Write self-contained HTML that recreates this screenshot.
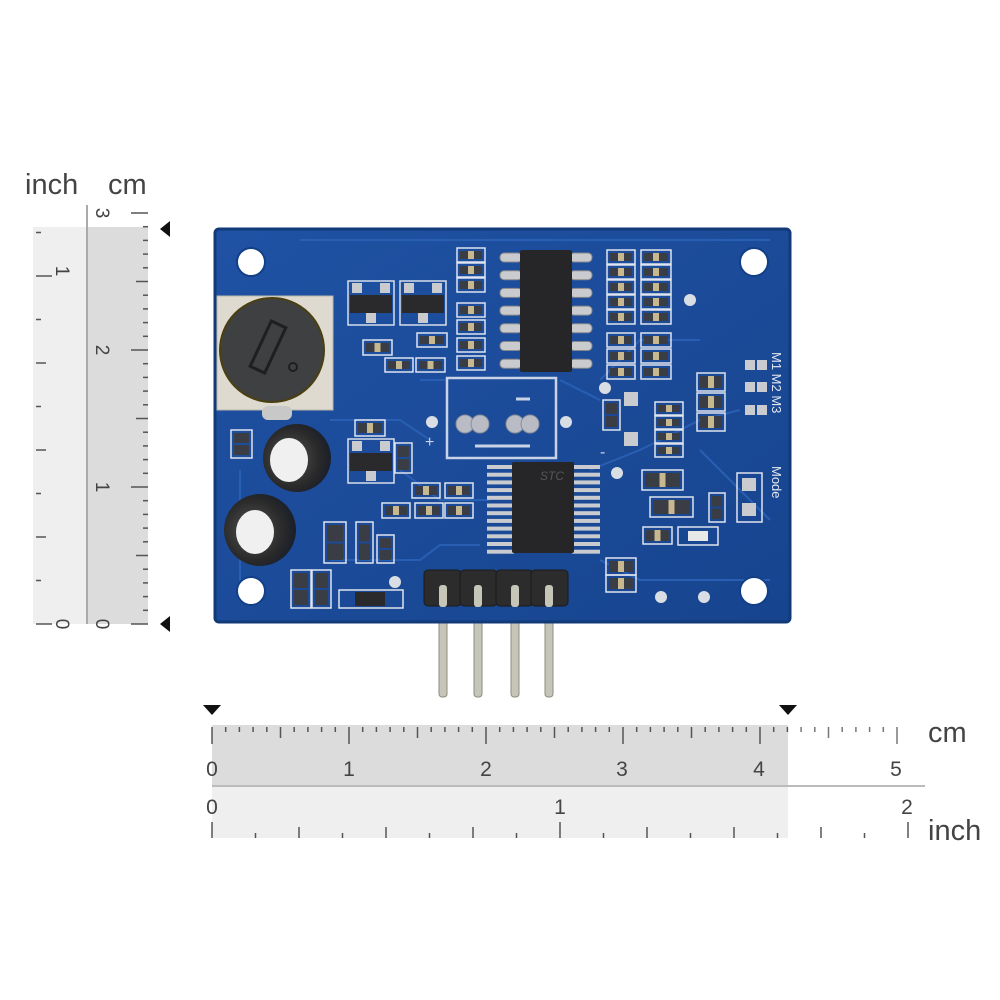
<!DOCTYPE html>
<html><head><meta charset="utf-8">
<style>
html,body{margin:0;padding:0;background:#fff;}
svg{display:block;}
text{font-family:"Liberation Sans",sans-serif;}
</style></head>
<body>
<svg id="s" width="1000" height="1000" viewBox="0 0 1000 1000" xmlns="http://www.w3.org/2000/svg">
<defs>
<radialGradient id="capg" cx="0.4" cy="0.5" r="0.6">
<stop offset="0" stop-color="#555"/><stop offset="0.7" stop-color="#2a2a2a"/><stop offset="1" stop-color="#1a1f2a"/>
</radialGradient>
<linearGradient id="pcb" x1="0" y1="0" x2="1" y2="1">
<stop offset="0" stop-color="#1f52a4"/><stop offset="1" stop-color="#17448e"/>
</linearGradient>
</defs>
<rect width="1000" height="1000" fill="#fff"/>

<!-- left ruler -->
<rect x="33" y="227" width="54" height="397" fill="#efefef"/>
<rect x="87" y="227" width="61" height="397" fill="#dcdcdc"/>
<line x1="87" y1="205" x2="87" y2="624" stroke="#aaa" stroke-width="2"/>
<g id="lt" stroke="#555" stroke-width="1.5"></g>
<text x="25" y="194" font-size="29" fill="#444">inch</text>
<text x="108" y="194" font-size="29" fill="#444">cm</text>
<g font-size="19" fill="#444">
<text transform="translate(96,624) rotate(90)" text-anchor="middle">0</text>
<text transform="translate(96,487) rotate(90)" text-anchor="middle">1</text>
<text transform="translate(96,350) rotate(90)" text-anchor="middle">2</text>
<text transform="translate(96,213) rotate(90)" text-anchor="middle">3</text>
<text transform="translate(56,624) rotate(90)" text-anchor="middle">0</text>
<text transform="translate(56,271) rotate(90)" text-anchor="middle">1</text>
</g>
<polygon points="160,229 170,221 170,237" fill="#111"/>
<polygon points="160,624 170,616 170,632" fill="#111"/>

<!-- bottom ruler -->
<rect x="212" y="725" width="576" height="61" fill="#dcdcdc"/>
<rect x="212" y="786" width="576" height="52" fill="#efefef"/>
<line x1="212" y1="786" x2="925" y2="786" stroke="#bbb" stroke-width="2"/>
<g id="bt" stroke="#555" stroke-width="1.5"></g>
<g font-size="21" fill="#444" text-anchor="middle">
<text x="212" y="776">0</text><text x="349" y="776">1</text><text x="486" y="776">2</text>
<text x="622" y="776">3</text><text x="759" y="776">4</text><text x="896" y="776">5</text>
<text x="212" y="814">0</text><text x="560" y="814">1</text><text x="907" y="814">2</text>
</g>
<text x="928" y="742" font-size="29" fill="#444">cm</text>
<text x="928" y="840" font-size="29" fill="#444">inch</text>
<polygon points="212,715 203,705 221,705" fill="#111"/>
<polygon points="788,715 779,705 797,705" fill="#111"/>

<!-- pins -->
<g fill="#c6c6b8" stroke="#8d8d80" stroke-width="1">
<rect x="439" y="585" width="8" height="112" rx="3"/>
<rect x="474" y="585" width="8" height="112" rx="3"/>
<rect x="511" y="585" width="8" height="112" rx="3"/>
<rect x="545" y="585" width="8" height="112" rx="3"/>
</g>

<!-- PCB -->
<rect x="215" y="229" width="575" height="393" rx="4" fill="url(#pcb)"/>
<rect x="215" y="229" width="575" height="393" rx="4" fill="none" stroke="#123a78" stroke-width="3"/>
<g stroke="#2b62b6" stroke-width="2" fill="none" opacity="0.9">
<path d="M300 240 L770 240"/><path d="M330 420 L400 420 L430 440"/><path d="M600 380 L640 340 L700 340"/>
<path d="M590 470 L640 450 L700 420 L740 410"/><path d="M330 560 L420 560 L440 545 L480 545"/>
<path d="M600 560 L640 580 L770 580"/><path d="M240 470 L240 600"/><path d="M700 450 L770 520"/>
<path d="M420 380 L445 380"/><path d="M560 380 L600 400"/><path d="M400 470 L440 500 L490 500"/>
</g>
<!-- holes -->
<g fill="#fff" stroke="#123f86" stroke-width="2">
<circle cx="251" cy="262" r="14"/><circle cx="754" cy="262" r="14"/>
<circle cx="251" cy="591" r="14"/><circle cx="754" cy="591" r="14"/>
</g>
<!-- vias -->
<g fill="#d9dde4">
<circle cx="690" cy="300" r="6"/><circle cx="432" cy="422" r="6"/><circle cx="566" cy="422" r="6"/>
<circle cx="605" cy="388" r="6"/><circle cx="617" cy="473" r="6"/><circle cx="395" cy="582" r="6"/>
<circle cx="661" cy="597" r="6"/><circle cx="704" cy="597" r="6"/>
</g>

<!-- pot -->
<rect x="217" y="296" width="116" height="114" fill="#dedad0" stroke="#b9b5aa"/>
<rect x="262" y="406" width="30" height="14" rx="6" fill="#c8c8c8"/>
<circle cx="272" cy="350" r="52" fill="#3f4042" stroke="#4a3f10" stroke-width="2"/>
<rect x="-8" y="-25" width="16" height="50" fill="none" stroke="#1f1f1f" stroke-width="3" transform="translate(268,347) rotate(25)"/>
<circle cx="293" cy="367" r="4" fill="none" stroke="#1f1f1f" stroke-width="2"/>

<!-- caps -->
<circle cx="297" cy="458" r="34" fill="url(#capg)"/>
<ellipse cx="289" cy="460" rx="19" ry="22" fill="#f0f0f0"/>
<circle cx="260" cy="530" r="36" fill="url(#capg)"/>
<ellipse cx="255" cy="532" rx="19" ry="22" fill="#f0f0f0"/>

<!-- silkscreen rect -->
<rect x="447" y="378" width="109" height="80" fill="none" stroke="#c9d3e6" stroke-width="2.5"/>
<line x1="475" y1="446" x2="530" y2="446" stroke="#c9d3e6" stroke-width="3"/>
<line x1="516" y1="399" x2="530" y2="399" stroke="#c9d3e6" stroke-width="3"/>
<text x="425" y="447" font-size="16" fill="#c9d3e6">+</text>
<text x="600" y="457" font-size="16" fill="#c9d3e6">-</text>
<g fill="#b9bcc4" stroke="#8a8e98"><circle cx="465" cy="424" r="9"/><circle cx="480" cy="424" r="9"/><circle cx="515" cy="424" r="9"/><circle cx="530" cy="424" r="9"/></g>

<!-- top IC -->
<g id="ic1"></g>
<rect x="520" y="250" width="52" height="122" rx="2" fill="#262628"/>
<!-- bottom IC -->
<g id="ic2"></g>
<rect x="512" y="462" width="62" height="91" rx="2" fill="#262628"/>
<text x="540" y="480" font-size="12" font-style="italic" fill="#555" font-family="Liberation Serif,serif">STC</text>

<!-- SOT23 -->
<g id="sot"></g>
<g id="parts"></g>

<!-- header -->
<g fill="#2c2c2c" stroke="#1a1a1a">
<rect x="424" y="570" width="37" height="36" rx="4"/><rect x="460" y="570" width="37" height="36" rx="4"/>
<rect x="496" y="570" width="37" height="36" rx="4"/><rect x="531" y="570" width="37" height="36" rx="4"/>
</g>
<g fill="#c6c6b8"><rect x="439" y="585" width="8" height="22" rx="3"/><rect x="474" y="585" width="8" height="22" rx="3"/><rect x="511" y="585" width="8" height="22" rx="3"/><rect x="545" y="585" width="8" height="22" rx="3"/></g>

<!-- labels -->
<g font-size="13" fill="#e4e8f0">
<text transform="translate(772,352) rotate(90)">M1 M2 M3</text>
<text transform="translate(772,466) rotate(90)">Mode</text>
</g>
</svg>
<script>
var NS="http://www.w3.org/2000/svg";
function el(p,t,a){var e=document.createElementNS(NS,t);for(var k in a)e.setAttribute(k,a[k]);document.getElementById(p).appendChild(e);return e;}
// left ruler ticks
for(var i=0;i<=30;i++){var y=624-i*13.7;var L=i%10==0?17:(i%5==0?12:5);if(y<208)break;el("lt","line",{x1:148-L,y1:y,x2:148,y2:y});}
for(var i=0;i<=9;i++){var y=624-i*43.5;var L=i%8==0?16:(i%2==0?10:5);if(y<225)break;el("lt","line",{x1:36,y1:y,x2:36+L,y2:y});}
// bottom ticks
for(var i=0;i<=50;i++){var x=212+i*13.7;var L=i%10==0?17:(i%5==0?11:5);el("bt","line",{x1:x,y1:727,x2:x,y2:727+L,stroke:x>790?"#777":"#555"});}
for(var i=0;i<=16;i++){var x=212+i*43.5;var L=i%8==0?16:(i%2==0?11:5);el("bt","line",{x1:x,y1:838,x2:x,y2:838-L});}
// IC pins
for(var i=0;i<7;i++){var y=257+i*17.7;el("ic1","rect",{x:500,y:y-4,width:22,height:9,rx:4,fill:"#c9cbcf",stroke:"#888"});el("ic1","rect",{x:570,y:y-4,width:22,height:9,rx:4,fill:"#c9cbcf",stroke:"#888"});}
for(var i=0;i<12;i++){var y=467+i*7.7;el("ic2","rect",{x:487,y:y-2,width:27,height:4,fill:"#c9cbcf"});el("ic2","rect",{x:572,y:y-2,width:28,height:4,fill:"#c9cbcf"});}
// SOT23
[[350,295],[402,295],[350,453]].forEach(function(p){var x=p[0],y=p[1];
el("sot","rect",{x:x-2,y:y-14,width:46,height:44,fill:"none",stroke:"#d8deea","stroke-width":1.5});
el("sot","rect",{x:x+2,y:y-12,width:10,height:10,fill:"#c9cbcf"});el("sot","rect",{x:x+30,y:y-12,width:10,height:10,fill:"#c9cbcf"});
el("sot","rect",{x:x+16,y:y+18,width:10,height:10,fill:"#c9cbcf"});
el("sot","rect",{x:x,y:y,width:42,height:18,fill:"#2a2a2c"});});
// small parts: horizontal pairs
function hp(x,y,w,h){el("parts","rect",{x:x,y:y,width:w,height:h,fill:"none",stroke:"#dfe4ee","stroke-width":1.5});
el("parts","rect",{x:x+3,y:y+3,width:w/2-4,height:h-6,fill:"#3a3d44"});el("parts","rect",{x:x+w/2+1,y:y+3,width:w/2-4,height:h-6,fill:"#3a3d44"});
el("parts","rect",{x:x+w/2-3,y:y+3,width:6,height:h-6,fill:"#c8b890"});}
function vp(x,y,w,h){el("parts","rect",{x:x,y:y,width:w,height:h,fill:"none",stroke:"#dfe4ee","stroke-width":1.5});
el("parts","rect",{x:x+3,y:y+3,width:w-6,height:h/2-4,fill:"#3a3d44"});el("parts","rect",{x:x+3,y:y+h/2+1,width:w-6,height:h/2-4,fill:"#3a3d44"});}
[248,263,278,303,320,338,356].forEach(function(y){hp(457,y,28,14);});
[250,265,280,295,310,333,349,365].forEach(function(y){hp(607,y,28,14);hp(641,y,30,14);});
hp(363,340,29,15);hp(385,358,28,14);hp(416,358,29,14);hp(417,333,30,14);
hp(412,483,28,15);hp(445,483,28,15);hp(382,503,28,15);hp(415,503,28,15);hp(445,503,28,15);
hp(355,420,30,16);vp(395,443,17,30);vp(603,400,17,30);
[402,416,430,444].forEach(function(y){hp(655,y,28,13);});
hp(642,470,41,20);hp(650,497,43,20);hp(643,527,29,17);
el("parts","rect",{x:678,y:527,width:40,height:18,fill:"none",stroke:"#dfe4ee","stroke-width":1.5});el("parts","rect",{x:688,y:531,width:20,height:10,fill:"#e8e8e8"});
vp(324,522,22,41);vp(356,522,17,41);vp(377,535,17,28);vp(291,570,20,38);vp(312,570,19,38);
el("parts","rect",{x:339,y:590,width:64,height:18,fill:"none",stroke:"#dfe4ee","stroke-width":1.5});el("parts","rect",{x:355,y:592,width:30,height:14,fill:"#2a2a2c"});
vp(231,430,21,28);hp(606,558,30,17);hp(606,575,30,17);
[373,393,413].forEach(function(y){hp(697,y,28,18);});
[360,382,405].forEach(function(y){el("parts","rect",{x:745,y:y,width:10,height:10,fill:"#c9cbcf"});el("parts","rect",{x:757,y:y,width:10,height:10,fill:"#c9cbcf"});});
el("parts","rect",{x:737,y:473,width:25,height:49,fill:"none",stroke:"#dfe4ee","stroke-width":1.5});
el("parts","rect",{x:742,y:478,width:14,height:13,fill:"#c9cbcf"});el("parts","rect",{x:742,y:503,width:14,height:13,fill:"#c9cbcf"});
vp(709,493,16,29);
el("parts","rect",{x:624,y:392,width:14,height:14,fill:"#c9cbcf"});el("parts","rect",{x:624,y:432,width:14,height:14,fill:"#c9cbcf"});
</script>
</body></html>
